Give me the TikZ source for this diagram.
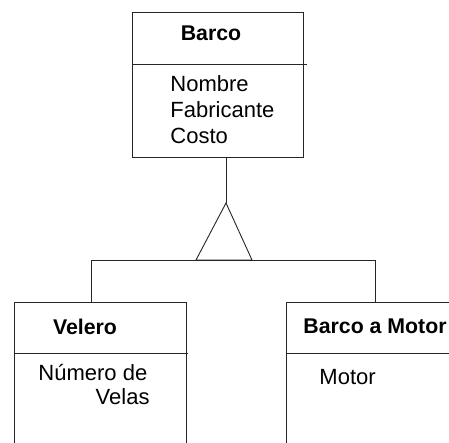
\documentclass[tikz,border=0pt]{standalone}
\usepackage{fontspec}
\setmainfont{Liberation Sans}
\begin{document}
\begin{tikzpicture}[x=1pt,y=-1pt,
  line width=0.9pt,
  classbox/.style={draw=black!85, rectangle, inner sep=0pt, anchor=north west},
  title/.style={font=\fontsize{21.3}{25}\selectfont\bfseries, inner sep=0pt},
  attr/.style={font=\fontsize{22}{26}\selectfont, inner sep=0pt, align=left},
  link/.style={draw=black!85}]
\useasboundingbox (0,0) rectangle (449,442);
\clip (0,0) rectangle (449,442);

% Superclass
\node[classbox, minimum width=171, minimum height=145] (barco) at (132,12) {};
\coordinate (bdivL) at (132,64);
\coordinate (bdivR) at (307,64);
\draw[link] (bdivL) -- (bdivR);
\node[title] (barcoT) at (211,33) {Barco};
\node[attr, anchor=north west] (barcoA) at (170,75) {Nombre\\Fabricante\\Costo};

% Generalization triangle and branch line
\coordinate (apex) at (226,203);
\coordinate (baseL) at (196,260);
\coordinate (baseR) at (252,260);
\coordinate (branchL) at (91,260);
\coordinate (branchR) at (375,260);
\draw[link] (barco.south -| apex) -- (apex);
\draw[link] (apex) -- (baseR) -- (baseL) -- cycle;
\draw[link] (branchL) -- (branchR);

% Subclass: Velero
\node[classbox, minimum width=172, minimum height=170] (velero) at (14,302) {};
\coordinate (vdivL) at (14,353);
\coordinate (vdivR) at (188,353);
\draw[link] (vdivL) -- (vdivR);
\node[title] (veleroT) at (85,327) {Velero};
\node[attr, anchor=north west] (veleroA1) at (38,364) {Número de};
\node[attr, anchor=north east] (veleroA2) at (150,388) {Velas};
\draw[link] (branchL) -- (branchL |- velero.north);

% Subclass: Barco a Motor
\node[classbox, minimum width=200, minimum height=170] (motor) at (286,302) {};
\coordinate (mdivL) at (286,353);
\coordinate (mdivR) at (486,353);
\draw[link] (mdivL) -- (mdivR);
\node[title, anchor=west] (motorT) at (303,326) {Barco a Motor};
\node[attr, anchor=north west] (motorA) at (319,369) {Motor};
\draw[link] (branchR) -- (branchR |- motor.north);
\end{tikzpicture}
\end{document}
